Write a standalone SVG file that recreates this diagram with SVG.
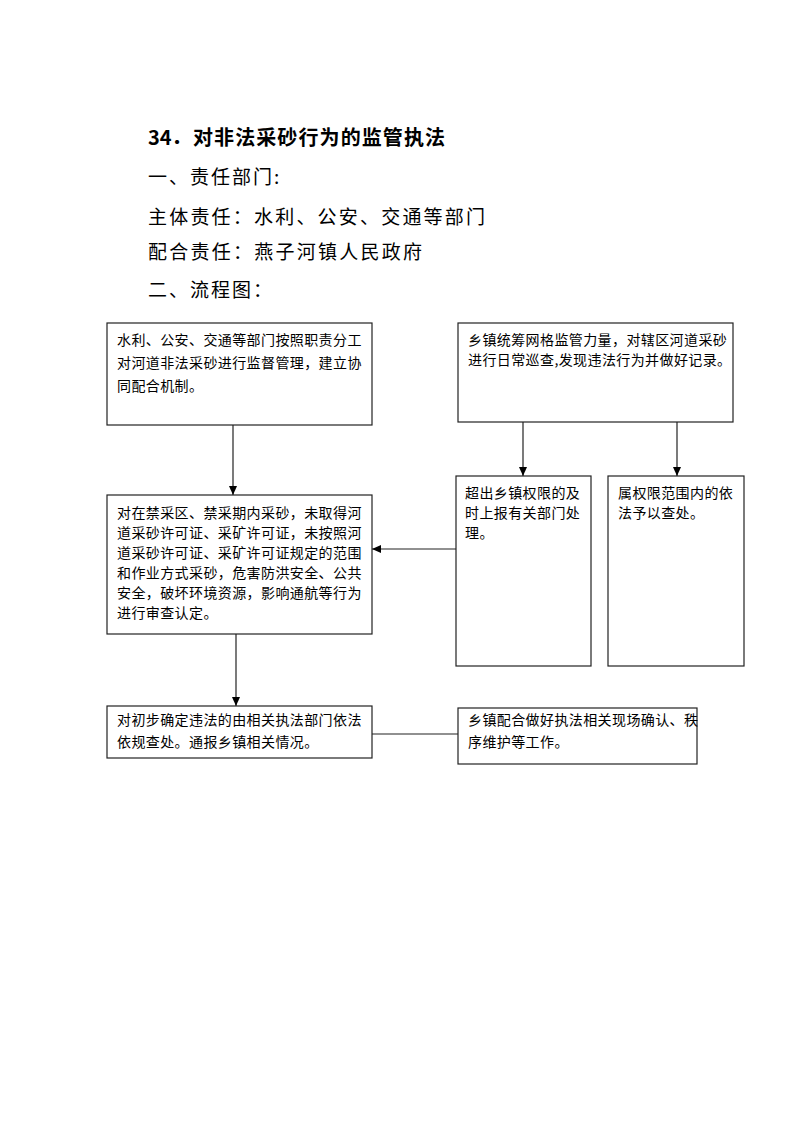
<svg xmlns="http://www.w3.org/2000/svg" width="793" height="1122" viewBox="0 0 793 1122">
<style>
.h{font-family:"Noto Sans CJK SC","Liberation Serif",serif;font-size:19px;fill:#000;letter-spacing:2px}
.t{font-family:"Noto Sans CJK SC","Liberation Sans",sans-serif;font-size:20px;font-weight:bold;fill:#000}
.b{font-family:"Noto Sans CJK SC","Liberation Sans",sans-serif;font-size:14px;fill:#000;letter-spacing:0.4px}
.box{fill:#fff;stroke:#222;stroke-width:1.2}
.c{stroke:#222;stroke-width:1.2;fill:none}
</style>
<defs>
<marker id="arr" markerWidth="10" markerHeight="10" refX="9" refY="5" orient="auto" markerUnits="userSpaceOnUse">
<path d="M0,1 L9,5 L0,9 Z" fill="#000"/>
</marker>
</defs>
<rect width="793" height="1122" fill="#fff"/>
<g id="heading">
<text class="t" x="148" y="145">34．</text>
<text class="t" x="193" y="145" textLength="252" lengthAdjust="spacing">对非法采砂行为的监管执法</text>
<text class="h" x="148" y="184">一、责任部门:</text>
<text class="h" x="148" y="224" textLength="339" lengthAdjust="spacing">主体责任：水利、公安、交通等部门</text>
<text class="h" x="148" y="259" textLength="276" lengthAdjust="spacing">配合责任：燕子河镇人民政府</text>
<text class="h" x="148" y="297">二、流程图：</text>
</g>
<g id="connectors">
<line class="c" x1="233" y1="425" x2="233" y2="495" marker-end="url(#arr)"/>
<line class="c" x1="523" y1="422" x2="523" y2="476" marker-end="url(#arr)"/>
<line class="c" x1="677" y1="422" x2="677" y2="476" marker-end="url(#arr)"/>
<line class="c" x1="456" y1="549" x2="372" y2="549" marker-end="url(#arr)"/>
<line class="c" x1="236" y1="634" x2="236" y2="706" marker-end="url(#arr)"/>
<line class="c" x1="372" y1="734" x2="458" y2="734"/>
</g>
<g id="n1">
<rect class="box" x="107" y="323" width="265" height="102"/>
<text class="b" x="117" y="345">水利、公安、交通等部门按照职责分工</text>
<text class="b" x="117" y="368">对河道非法采砂进行监督管理，建立协</text>
<text class="b" x="117" y="391">同配合机制。</text>
</g>
<g id="n2">
<rect class="box" x="458" y="323" width="275" height="99"/>
<text class="b" x="468" y="345">乡镇统筹网格监管力量，对辖区河道采砂</text>
<text class="b" x="468" y="365">进行日常巡查,发现违法行为并做好记录。</text>
</g>
<g id="n3">
<rect class="box" x="107" y="495" width="265" height="139"/>
<text class="b" x="117" y="518">对在禁采区、禁采期内采砂，未取得河</text>
<text class="b" x="117" y="538">道采砂许可证、采矿许可证，未按照河</text>
<text class="b" x="117" y="558">道采砂许可证、采矿许可证规定的范围</text>
<text class="b" x="117" y="578">和作业方式采砂，危害防洪安全、公共</text>
<text class="b" x="117" y="598">安全，破坏环境资源，影响通航等行为</text>
<text class="b" x="117" y="618">进行审查认定。</text>
</g>
<g id="n4">
<rect class="box" x="456" y="476" width="135" height="190"/>
<text class="b" x="465" y="498">超出乡镇权限的及</text>
<text class="b" x="465" y="518">时上报有关部门处</text>
<text class="b" x="465" y="538">理。</text>
</g>
<g id="n5">
<rect class="box" x="608" y="476" width="136" height="190"/>
<text class="b" x="618" y="498">属权限范围内的依</text>
<text class="b" x="618" y="518">法予以查处。</text>
</g>
<g id="n6">
<rect class="box" x="107" y="706" width="265" height="52"/>
<text class="b" x="117" y="725">对初步确定违法的由相关执法部门依法</text>
<text class="b" x="117" y="747">依规查处。通报乡镇相关情况。</text>
</g>
<g id="n7">
<rect class="box" x="458" y="708" width="239" height="56"/>
<text class="b" x="468" y="725">乡镇配合做好执法相关现场确认、秩</text>
<text class="b" x="468" y="747">序维护等工作。</text>
</g>
</svg>
